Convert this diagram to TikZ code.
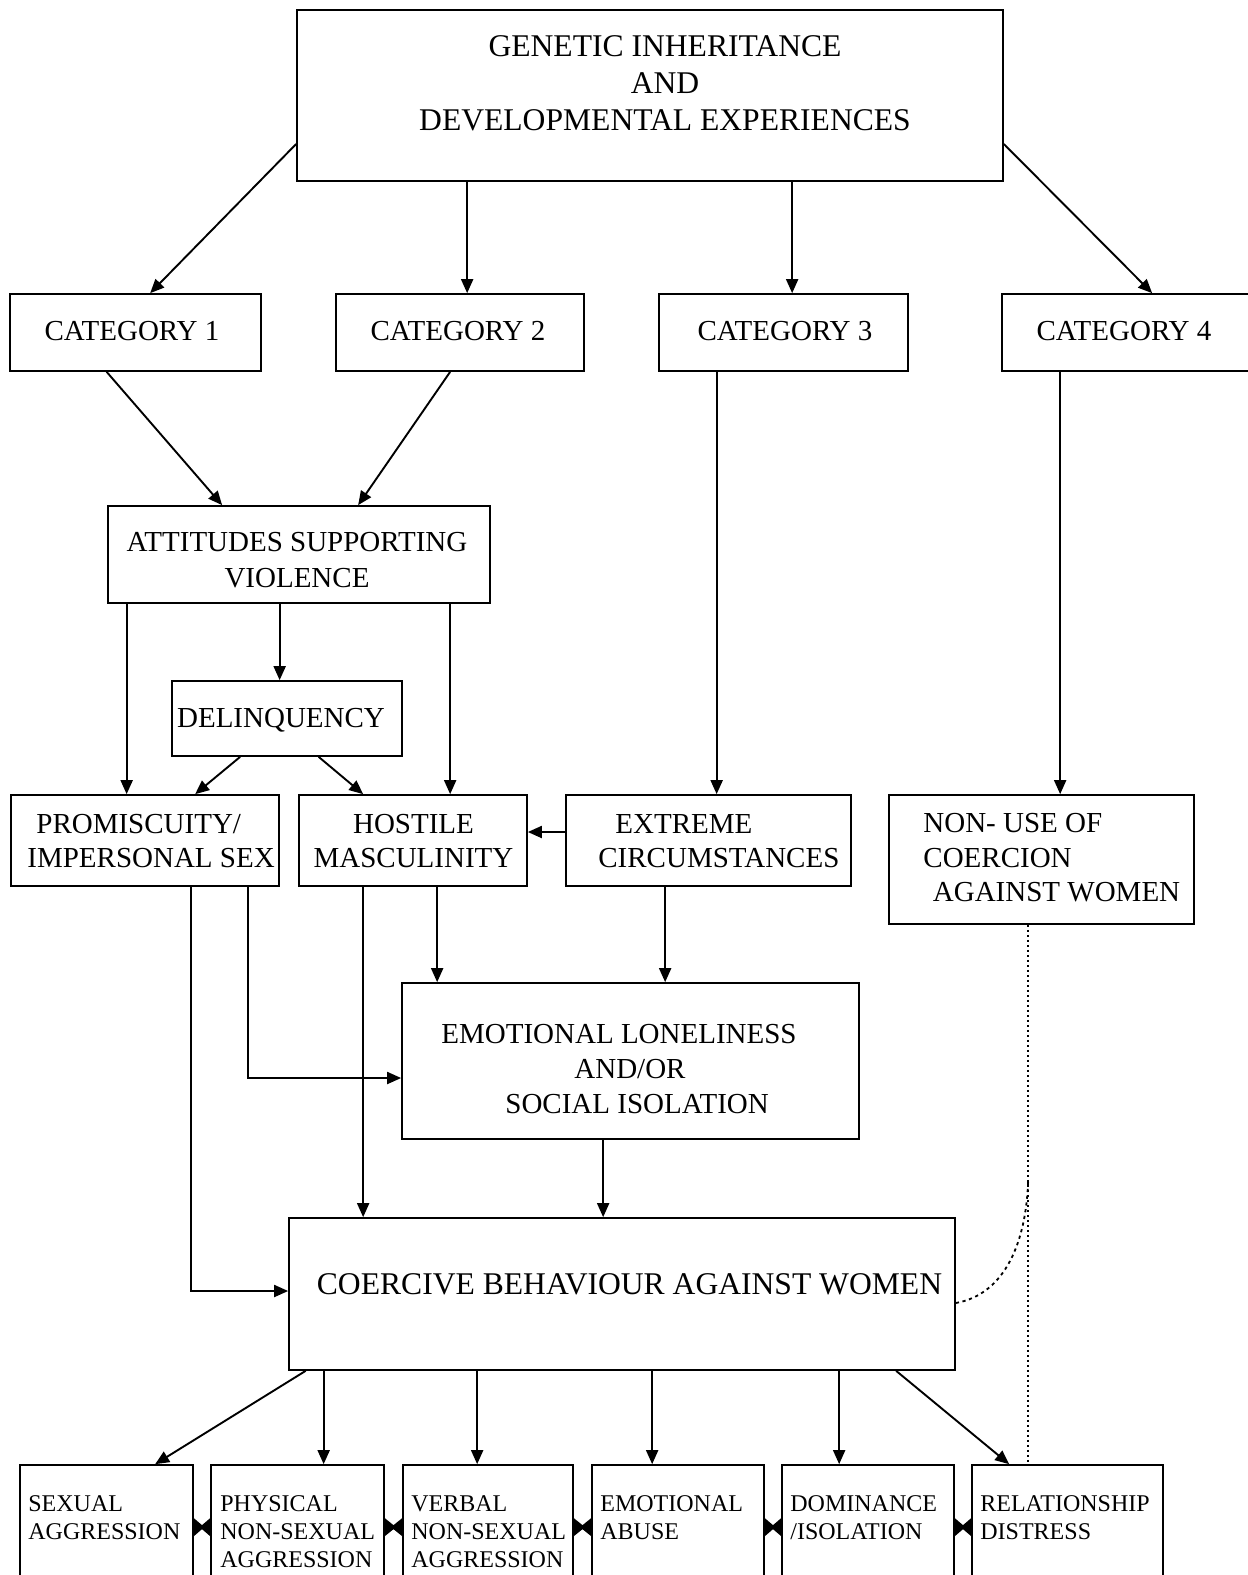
\documentclass[tikz,border=0pt]{standalone}
\usepackage{fontspec}
\setmainfont{Liberation Serif}
\usetikzlibrary{arrows.meta,calc,fit}

% filled double tip squeezed into the narrow gap between two neighbouring boxes
\newcommand\tiepair[2]{%
  \fill ($(#1.north east)+(0,54)$)
     -- ($(#1.north east)!0.5!(#2.north west)+(0,61)$)
     -- ($(#2.north west)+(0,54)$)
     -- ($(#2.north west)+(0,72)$)
     -- ($(#1.north east)!0.5!(#2.north west)+(0,65)$)
     -- ($(#1.north east)+(0,72)$) -- cycle;}

\begin{document}
\begin{tikzpicture}[x=0.5pt,y=-0.5pt,
  box/.style={draw,line width=0.85pt,inner sep=0pt,rectangle},
  arr/.style={line width=0.95pt,-{Triangle[length=7pt,width=6pt]}},
  dotline/.style={line width=0.9pt,dash pattern=on 0.9pt off 1.6pt},
  dashcurve/.style={line width=0.9pt,dash pattern=on 1.6pt off 1.8pt},
  txtbig/.style={font=\fontsize{15.8}{18.6}\selectfont,inner sep=0pt},
  txtmid/.style={font=\fontsize{14.5}{17}\selectfont,inner sep=0pt},
  txtsmall/.style={font=\fontsize{12}{14}\selectfont,inner sep=0pt,align=left,anchor=north west}]

\useasboundingbox (0,0) rectangle (1248,1575);
\clip (0,0) rectangle (1248,1575);

% ---------- boxes ----------
\node (topbox) [box,fit={(297,10) (1003,181)}] {};
\node (cat1) [box,fit={(10,294) (261,371)}] {};
\node (cat2) [box,fit={(336,294) (584,371)}] {};
\node (cat3) [box,fit={(659,294) (908,371)}] {};
\node (cat4) [box,fit={(1002,294) (1270,371)}] {};
\node (att) [box,fit={(108,506) (490,603)}] {};
\node (del) [box,fit={(172,681) (402,756)}] {};
\node (prom) [box,fit={(11,795) (279,886)}] {};
\node (hos) [box,fit={(299,795) (527,886)}] {};
\node (ext) [box,fit={(566,795) (851,886)}] {};
\node (nonuse) [box,fit={(889,795) (1194,924)}] {};
\node (emot) [box,fit={(402,983) (859,1139)}] {};
\node (coer) [box,fit={(289,1218) (955,1370)}] {};
\node (sex) [box,fit={(20,1465) (193,1620)}] {};
\node (phys) [box,fit={(211,1465) (384,1620)}] {};
\node (verb) [box,fit={(403,1465) (573,1620)}] {};
\node (emab) [box,fit={(592,1465) (764,1620)}] {};
\node (dom) [box,fit={(782,1465) (954,1620)}] {};
\node (rel) [box,fit={(972,1465) (1163,1620)}] {};

% ---------- texts ----------
\node (topt) [txtbig,align=center] at (665,83) {GENETIC INHERITANCE\\AND\\DEVELOPMENTAL EXPERIENCES};
\node (cat1t) [txtmid] at (132,331) {CATEGORY 1};
\node (cat2t) [txtmid] at (458,331) {CATEGORY 2};
\node (cat3t) [txtmid] at (785,331) {CATEGORY 3};
\node (cat4t) [txtmid] at (1124,331) {CATEGORY 4};
\node (attt) [txtmid,align=center,font=\fontsize{14.5}{18}\selectfont] at (297,560) {ATTITUDES SUPPORTING\\VIOLENCE};
\node (delt) [txtmid] at (281,720) {DELINQUENCY};
\node (promt) [txtmid,align=left,anchor=west] at (27,841) {\hspace*{4.5pt}PROMISCUITY/\\IMPERSONAL SEX};
\node (host) [txtmid,align=center] at (413.5,841) {HOSTILE\\MASCULINITY};
\node (extt) [txtmid,align=left,anchor=west] at (598,841) {\hspace*{8.5pt}EXTREME\\CIRCUMSTANCES};
\node (nonuset) [txtmid,align=left,anchor=west,font=\fontsize{14.5}{17.25}\selectfont] at (923,858) {NON- USE OF\\COERCION\\\hspace*{4.75pt}AGAINST WOMEN};
\node (emott) [txtmid,align=left,anchor=west,font=\fontsize{14.5}{17.5}\selectfont] at (441,1069) {EMOTIONAL LONELINESS\\\hspace*{66.5pt}AND/OR\\\hspace*{32pt}SOCIAL ISOLATION};
\node (coert) [txtbig,anchor=west] at (316.5,1284) {COERCIVE BEHAVIOUR AGAINST WOMEN};
\node (sext) [txtsmall] at (28,1495) {SEXUAL\\AGGRESSION};
\node (physt) [txtsmall] at (220,1495) {PHYSICAL\\NON-SEXUAL\\AGGRESSION};
\node (verbt) [txtsmall] at (411,1495) {VERBAL\\NON-SEXUAL\\AGGRESSION};
\node (emabt) [txtsmall] at (600,1495) {EMOTIONAL\\ABUSE};
\node (domt) [txtsmall] at (790,1495) {DOMINANCE\\/ISOLATION};
\node (relt) [txtsmall] at (980,1495) {RELATIONSHIP\\DISTRESS};

% ---------- connectors ----------
\draw[arr] ($(topbox.west)+(0,48.5)$) -- ($(cat1.north west)+(141,0)$);
\draw[arr] ($(topbox.south west)+(171,0)$) -- ($(cat2.north west)+(132,0)$);
\draw[arr] ($(topbox.south west)+(496,0)$) -- ($(cat3.north west)+(134,0)$);
\draw[arr] ($(topbox.east)+(0,48.5)$) -- ($(cat4.north west)+(151,0)$);

\draw[arr] ($(cat1.south west)+(97.5,0)$) -- ($(att.north west)+(115,0)$);
\draw[arr] ($(cat2.south west)+(115,0)$) -- ($(att.north west)+(251,0)$);
\draw[arr] ($(cat3.south west)+(58.5,0)$) -- ($(ext.north west)+(151.5,0)$);
\draw[arr] ($(cat4.south west)+(59,0)$) -- ($(nonuse.north west)+(172,0)$);

\draw[arr] ($(att.south west)+(19.5,0)$) -- ($(prom.north west)+(116.5,0)$);
\draw[arr] ($(att.south west)+(172.5,0)$) -- ($(del.north west)+(108.5,0)$);
\draw[arr] ($(att.south west)+(343,0)$) -- ($(hos.north west)+(152,0)$);
\draw[arr] ($(del.south west)+(69,0)$) -- ($(prom.north west)+(185,0)$);
\draw[arr] ($(del.south west)+(147.5,0)$) -- ($(hos.north west)+(65,0)$);
\draw[arr] ($(ext.west)+(0,-8.5)$) -- ($(hos.east)+(0,-8.5)$);

\draw[arr] ($(prom.south west)+(181,0)$) |- ($(coer.west)+(0,-3)$);
\draw[arr] ($(prom.south west)+(238,0)$) |- ($(emot.west)+(0,17)$);
\draw[arr] ($(hos.south west)+(139,0)$) -- ($(emot.north west)+(36,0)$);
\draw[arr] ($(hos.south west)+(65,0)$) -- ($(coer.north west)+(75,0)$);
\draw[arr] ($(ext.south west)+(100,0)$) -- ($(emot.north west)+(264,0)$);
\draw[arr] ($(emot.south west)+(202,0)$) -- ($(coer.north west)+(315,0)$);

\draw[arr] ($(coer.south west)+(17.5,0)$) -- ($(sex.north west)+(136,0)$);
\draw[arr] ($(coer.south west)+(35.5,0)$) -- ($(phys.north west)+(113.5,0)$);
\draw[arr] ($(coer.south west)+(189,0)$) -- ($(verb.north west)+(75,0)$);
\draw[arr] ($(coer.south west)+(364,0)$) -- ($(emab.north west)+(61,0)$);
\draw[arr] ($(coer.south west)+(551,0)$) -- ($(dom.north west)+(58,0)$);
\draw[arr] ($(coer.south west)+(608,0)$) -- ($(rel.north west)+(38,0)$);

% dotted link from the non-use box and the curve that joins it
\draw[dotline] ($(nonuse.south west)+(140,0)$) -- ($(rel.north west)+(57,0)$);
\coordinate (joint) at ($(nonuse.south west)+(140,256)$);
\draw[dashcurve] ($(coer.east)+(0,9)$) .. controls ($(coer.east)+(50,0)$) and ($(joint)+(-2,60)$) .. (joint);

% double tips between neighbouring outcome boxes
\tiepair{sex}{phys}
\tiepair{phys}{verb}
\tiepair{verb}{emab}
\tiepair{emab}{dom}
\tiepair{dom}{rel}
\end{tikzpicture}
\end{document}
